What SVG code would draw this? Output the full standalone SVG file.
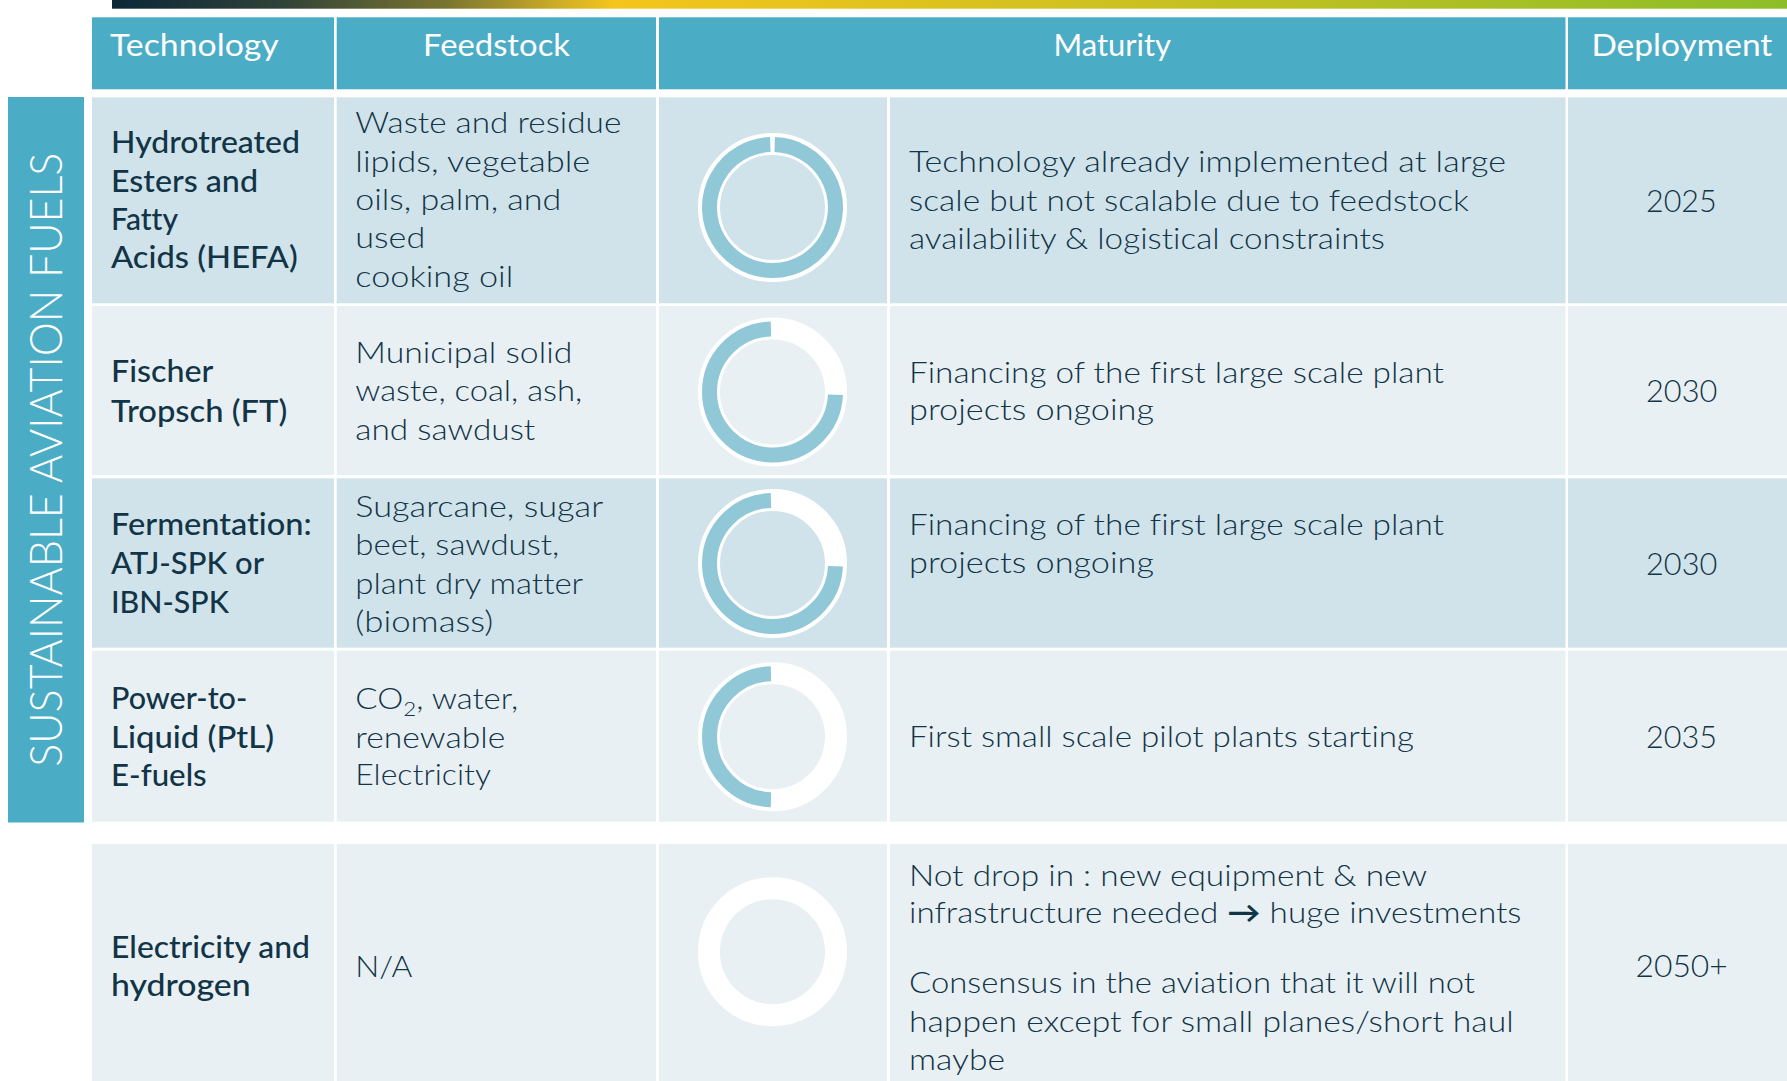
<svg xmlns="http://www.w3.org/2000/svg" width="1787" height="1081" viewBox="0 0 1787 1081">
<defs>
<linearGradient id="topbar" x1="112" y1="0" x2="1787" y2="0" gradientUnits="userSpaceOnUse">
<stop offset="0" stop-color="#0B2738"/>
<stop offset="0.1" stop-color="#2F4238"/>
<stop offset="0.2" stop-color="#7A7530"/>
<stop offset="0.27" stop-color="#D2B026"/>
<stop offset="0.3" stop-color="#F4C51C"/>
<stop offset="0.5" stop-color="#DCC21E"/>
<stop offset="1" stop-color="#8CBE28"/>
</linearGradient>
<style>
.hdr{fill:#4BACC6}
.band{fill:#4BACC6}
.dk{fill:#D0E3EA}
.lt{fill:#E8F0F4}
text{font-family:Lato,"Liberation Sans",sans-serif;font-variant-ligatures:none}
.h{fill:#FFFFFF;font-size:31.5px;font-weight:400}
.t{fill:#123447;font-size:31px;font-weight:500}
.f{fill:#123447;font-size:29.5px;font-weight:300}
.d{fill:#123447;font-size:32px;font-weight:300}
.side{fill:#FFFFFF;font-size:46px;font-weight:300}
.ring{fill:none;stroke:#FFFFFF;stroke-width:22}
.arc{fill:none;stroke:#90C8D8;stroke-width:15}
</style>
</defs>
<rect width="1787" height="1081" fill="#FFFFFF"/>
<rect id="gradient-bar" x="112" y="0" width="1675" height="8.7" fill="url(#topbar)"/>

<g id="header">
<rect class="hdr" x="92" y="17.3" width="242" height="72"/>
<rect class="hdr" x="336.7" y="17.3" width="319.3" height="72"/>
<rect class="hdr" x="659" y="17.3" width="906.5" height="72"/>
<rect class="hdr" x="1568" y="17.3" width="219" height="72"/>
<text class="h" x="110" y="56" textLength="168.7" lengthAdjust="spacingAndGlyphs">Technology</text>
<text class="h" x="423" y="56" textLength="147" lengthAdjust="spacingAndGlyphs">Feedstock</text>
<text class="h" x="1053.5" y="56" textLength="117.5" lengthAdjust="spacingAndGlyphs">Maturity</text>
<text class="h" x="1591.4" y="56" textLength="181" lengthAdjust="spacingAndGlyphs">Deployment</text>
</g>

<g id="side-label">
<rect class="band" x="8" y="97" width="76" height="725.5"/>
<text class="side" transform="translate(61.7,459.7) rotate(-90)" x="0" y="0" text-anchor="middle" textLength="614" lengthAdjust="spacingAndGlyphs">SUSTAINABLE AVIATION FUELS</text>
</g>

<g id="row-hefa">
<rect class="dk" x="92" y="97.3" width="242" height="206"/>
<rect class="dk" x="336.7" y="97.3" width="319.3" height="206"/>
<rect class="dk" x="659" y="97.3" width="228" height="206"/>
<rect class="dk" x="890" y="97.3" width="675.5" height="206"/>
<rect class="dk" x="1568" y="97.3" width="219" height="206"/>
<text class="t" x="111" y="153.3" textLength="189" lengthAdjust="spacingAndGlyphs">Hydrotreated</text>
<text class="t" x="111" y="192" textLength="147" lengthAdjust="spacingAndGlyphs">Esters and</text>
<text class="t" x="111" y="230" textLength="67" lengthAdjust="spacingAndGlyphs">Fatty</text>
<text class="t" x="111" y="268" textLength="186.7" lengthAdjust="spacingAndGlyphs">Acids (HEFA)</text>
<text class="f" x="355.3" y="133.3" textLength="266" lengthAdjust="spacingAndGlyphs">Waste and residue</text>
<text class="f" x="355.3" y="171.7" textLength="235" lengthAdjust="spacingAndGlyphs">lipids, vegetable</text>
<text class="f" x="355.3" y="210" textLength="206" lengthAdjust="spacingAndGlyphs">oils, palm, and</text>
<text class="f" x="355.3" y="248.3" textLength="70" lengthAdjust="spacingAndGlyphs">used</text>
<text class="f" x="355.3" y="286.7" textLength="158" lengthAdjust="spacingAndGlyphs">cooking oil</text>
<circle class="ring" cx="772.5" cy="207.5" r="63.5"/>
<path class="arc" d="M 774.7 144.54 A 63 63 0 1 1 770.3 144.54"/>
<text class="f" x="909" y="172" textLength="597" lengthAdjust="spacingAndGlyphs">Technology already implemented at large</text>
<text class="f" x="909" y="210.5" textLength="560" lengthAdjust="spacingAndGlyphs">scale but not scalable due to feedstock</text>
<text class="f" x="909" y="248.5" textLength="476" lengthAdjust="spacingAndGlyphs">availability &amp; logistical constraints</text>
<text class="d" x="1646" y="211.7" textLength="70.7" lengthAdjust="spacingAndGlyphs">2025</text>
</g>

<g id="row-ft">
<rect class="lt" x="92" y="306" width="242" height="169"/>
<rect class="lt" x="336.7" y="306" width="319.3" height="169"/>
<rect class="lt" x="659" y="306" width="228" height="169"/>
<rect class="lt" x="890" y="306" width="675.5" height="169"/>
<rect class="lt" x="1568" y="306" width="219" height="169"/>
<text class="t" x="111" y="382.3" textLength="102.3" lengthAdjust="spacingAndGlyphs">Fischer</text>
<text class="t" x="111" y="421.7" textLength="176.3" lengthAdjust="spacingAndGlyphs">Tropsch (FT)</text>
<text class="f" x="355.3" y="363.3" textLength="217" lengthAdjust="spacingAndGlyphs">Municipal solid</text>
<text class="f" x="355.3" y="401" textLength="227" lengthAdjust="spacingAndGlyphs">waste, coal, ash,</text>
<text class="f" x="355.3" y="440" textLength="180" lengthAdjust="spacingAndGlyphs">and sawdust</text>
<circle class="ring" cx="772.5" cy="392" r="63.5"/>
<path class="arc" d="M 835.44 394.75 A 63 63 0 1 1 770.96 329.02"/>
<text class="f" x="909" y="382.7" textLength="535" lengthAdjust="spacingAndGlyphs">Financing of the first large scale plant</text>
<text class="f" x="909" y="420" textLength="245" lengthAdjust="spacingAndGlyphs">projects ongoing</text>
<text class="d" x="1646" y="401.7" textLength="71.3" lengthAdjust="spacingAndGlyphs">2030</text>
</g>

<g id="row-fermentation">
<rect class="dk" x="92" y="478.3" width="242" height="169.4"/>
<rect class="dk" x="336.7" y="478.3" width="319.3" height="169.4"/>
<rect class="dk" x="659" y="478.3" width="228" height="169.4"/>
<rect class="dk" x="890" y="478.3" width="675.5" height="169.4"/>
<rect class="dk" x="1568" y="478.3" width="219" height="169.4"/>
<text class="t" x="111" y="535.3" textLength="200.7" lengthAdjust="spacingAndGlyphs">Fermentation:</text>
<text class="t" x="111" y="574" textLength="153" lengthAdjust="spacingAndGlyphs">ATJ-SPK or</text>
<text class="t" x="111" y="612.7" textLength="118" lengthAdjust="spacingAndGlyphs">IBN-SPK</text>
<text class="f" x="355.3" y="516.7" textLength="248" lengthAdjust="spacingAndGlyphs">Sugarcane, sugar</text>
<text class="f" x="355.3" y="555" textLength="204" lengthAdjust="spacingAndGlyphs">beet, sawdust,</text>
<text class="f" x="355.3" y="594" textLength="228" lengthAdjust="spacingAndGlyphs">plant dry matter</text>
<text class="f" x="355.3" y="632" textLength="138" lengthAdjust="spacingAndGlyphs">(biomass)</text>
<circle class="ring" cx="772.5" cy="563.5" r="63.5"/>
<path class="arc" d="M 835.44 566.25 A 63 63 0 1 1 770.96 500.52"/>
<text class="f" x="909" y="535" textLength="535" lengthAdjust="spacingAndGlyphs">Financing of the first large scale plant</text>
<text class="f" x="909" y="572.7" textLength="245" lengthAdjust="spacingAndGlyphs">projects ongoing</text>
<text class="d" x="1646" y="575" textLength="71.3" lengthAdjust="spacingAndGlyphs">2030</text>
</g>

<g id="row-ptl">
<rect class="lt" x="92" y="650.7" width="242" height="171"/>
<rect class="lt" x="336.7" y="650.7" width="319.3" height="171"/>
<rect class="lt" x="659" y="650.7" width="228" height="171"/>
<rect class="lt" x="890" y="650.7" width="675.5" height="171"/>
<rect class="lt" x="1568" y="650.7" width="219" height="171"/>
<text class="t" x="111" y="709" textLength="136.3" lengthAdjust="spacingAndGlyphs">Power-to-</text>
<text class="t" x="111" y="748.3" textLength="163" lengthAdjust="spacingAndGlyphs">Liquid (PtL)</text>
<text class="t" x="111" y="786" textLength="95.7" lengthAdjust="spacingAndGlyphs">E-fuels</text>
<text class="f" x="355.3" y="709" textLength="163" lengthAdjust="spacingAndGlyphs">CO<tspan font-size="20" dy="7">2</tspan><tspan dy="-7">, water,</tspan></text>
<text class="f" x="355.3" y="747.7" textLength="150" lengthAdjust="spacingAndGlyphs">renewable</text>
<text class="f" x="355.3" y="785.3" textLength="135.7" lengthAdjust="spacingAndGlyphs">Electricity</text>
<circle class="ring" cx="772.5" cy="736.7" r="63.5"/>
<path class="arc" d="M 770.96 799.68 A 63 63 0 0 1 770.96 673.72"/>
<text class="f" x="909" y="746.7" textLength="505" lengthAdjust="spacingAndGlyphs">First small scale pilot plants starting</text>
<text class="d" x="1646" y="748" textLength="71" lengthAdjust="spacingAndGlyphs">2035</text>
</g>

<g id="row-electricity-hydrogen">
<rect class="lt" x="92" y="844" width="242" height="237"/>
<rect class="lt" x="336.7" y="844" width="319.3" height="237"/>
<rect class="lt" x="659" y="844" width="228" height="237"/>
<rect class="lt" x="890" y="844" width="675.5" height="237"/>
<rect class="lt" x="1568" y="844" width="219" height="237"/>
<text class="t" x="111" y="958.3" textLength="199" lengthAdjust="spacingAndGlyphs">Electricity and</text>
<text class="t" x="111" y="996" textLength="139.7" lengthAdjust="spacingAndGlyphs">hydrogen</text>
<text class="f" x="355.3" y="976.7" textLength="57" lengthAdjust="spacingAndGlyphs">N/A</text>
<circle class="ring" cx="772.5" cy="951.7" r="63.5"/>
<text class="f" x="909" y="886" textLength="518" lengthAdjust="spacingAndGlyphs">Not drop in : new equipment &amp; new</text>
<text class="f" x="909" y="922.7" textLength="612.5" lengthAdjust="spacingAndGlyphs">infrastructure needed <tspan font-weight="700">→</tspan> huge investments</text>
<text class="f" x="909" y="993" textLength="566" lengthAdjust="spacingAndGlyphs">Consensus in the aviation that it will not</text>
<text class="f" x="909" y="1031.5" textLength="604.6" lengthAdjust="spacingAndGlyphs">happen except for small planes/short haul</text>
<text class="f" x="909" y="1069.5" textLength="96" lengthAdjust="spacingAndGlyphs">maybe</text>
<text class="d" x="1635.5" y="977" textLength="92.3" lengthAdjust="spacingAndGlyphs">2050+</text>
</g>
</svg>
